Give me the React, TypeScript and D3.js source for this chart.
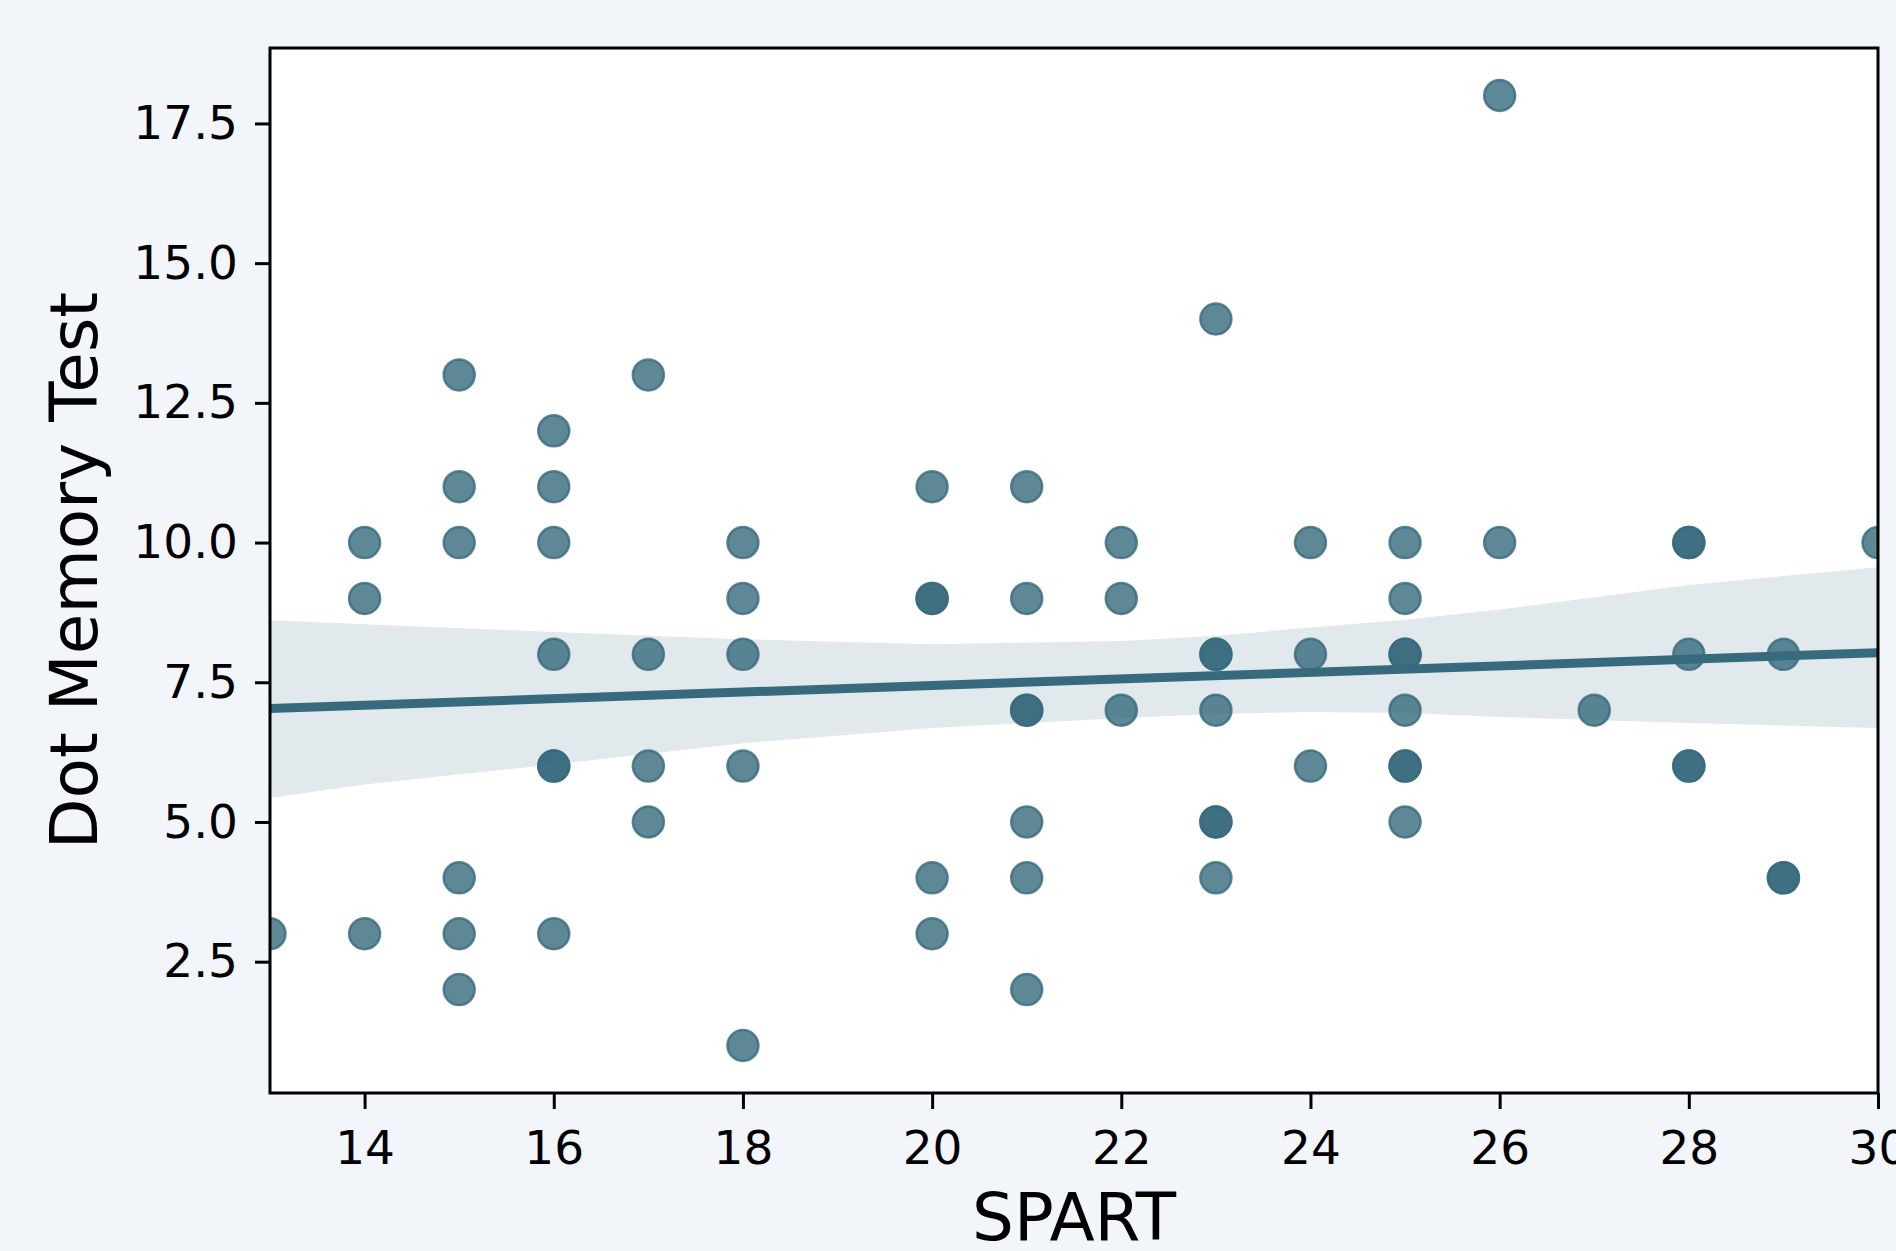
import { useEffect, useRef } from 'react';
import * as d3 from 'd3';

// SPART score per participant, paired with dotMemory below (repeats = overlapping dots)
const spart = [
    13,
    14, 14, 14,
    15, 15, 15, 15, 15, 15,
    16, 16, 16, 16, 16, 16, 16,
    17, 17, 17, 17,
    18, 18, 18, 18, 18,
    20, 20, 20, 20, 20,
    21, 21, 21, 21, 21, 21, 21,
    22, 22, 22,
    23, 23, 23, 23, 23, 23, 23,
    24, 24, 24,
    25, 25, 25, 25, 25, 25, 25, 25,
    26, 26,
    27,
    28, 28, 28, 28, 28,
    29, 29, 29,
    30
];
const dotMemory = [
    3,
    10, 9, 3,
    13, 11, 10, 4, 3, 2,
    12, 11, 10, 8, 6, 6, 3,
    13, 8, 6, 5,
    10, 9, 8, 6, 1,
    11, 9, 9, 4, 3,
    11, 9, 7, 7, 5, 4, 2,
    10, 9, 7,
    14, 8, 8, 7, 5, 5, 4,
    10, 8, 6,
    10, 9, 8, 8, 7, 6, 6, 5,
    18, 10,
    7,
    10, 10, 8, 6, 6,
    8, 4, 4,
    10
];

// regression fit and its confidence band
const fitX = [13, 30];
const fitY = [7.03, 8.03];
const bandX = [13, 14, 16, 18, 20, 22, 23, 24, 25, 26, 28, 30];
const bandUpper = [8.61, 8.54, 8.40, 8.27, 8.18, 8.24, 8.33, 8.48, 8.62, 8.80, 9.24, 9.56];
const bandLower = [5.43, 5.67, 6.03, 6.41, 6.68, 6.86, 6.93, 6.97, 6.95, 6.88, 6.77, 6.68];

const xTicks = [14, 16, 18, 20, 22, 24, 26, 28, 30];
const yTicks = [2.5, 5.0, 7.5, 10.0, 12.5, 15.0, 17.5];

const WIDTH = 1896, HEIGHT = 1251;
const COLOR = '#376a7d';
const FONT = 'DejaVu Sans, sans-serif';

function renderChart(node) {
    const svg = d3.select(node);
    svg.selectAll('*').remove();

    const left = 270, right = 1878, top = 48, bottom = 1093;

    const x = d3.scaleLinear().domain([13, 30]).range([left, right]);
    const y = d3.scaleLinear().domain([0.15, 18.85]).range([bottom, top]);

    svg.append('rect')
        .attr('width', WIDTH)
        .attr('height', HEIGHT)
        .attr('fill', '#f2f5fa');

    svg.append('rect')
        .attr('x', left)
        .attr('y', top)
        .attr('width', right - left)
        .attr('height', bottom - top)
        .attr('fill', 'white');

    svg.append('clipPath')
        .attr('id', 'plot-clip')
        .append('rect')
        .attr('x', left)
        .attr('y', top)
        .attr('width', right - left)
        .attr('height', bottom - top);

    const plot = svg.append('g').attr('clip-path', 'url(#plot-clip)');

    // scatter
    plot.append('g')
        .selectAll('circle')
        .data(spart.map((s, i) => [s, dotMemory[i]]))
        .enter()
        .append('circle')
        .attr('cx', d => x(d[0]))
        .attr('cy', d => y(d[1]))
        .attr('r', 15.5)
        .attr('fill', COLOR)
        .attr('fill-opacity', 0.8)
        .attr('stroke', COLOR)
        .attr('stroke-opacity', 0.8)
        .attr('stroke-width', 2.5);

    // confidence band
    const area = d3.area()
        .x(d => x(d[0]))
        .y0(d => y(d[2]))
        .y1(d => y(d[1]));
    plot.append('path')
        .datum(bandX.map((b, i) => [b, bandUpper[i], bandLower[i]]))
        .attr('d', area)
        .attr('fill', COLOR)
        .attr('fill-opacity', 0.15);

    // regression line
    const line = d3.line().x(d => x(d[0])).y(d => y(d[1]));
    plot.append('path')
        .datum(fitX.map((f, i) => [f, fitY[i]]))
        .attr('d', line)
        .attr('fill', 'none')
        .attr('stroke', COLOR)
        .attr('stroke-width', 9);

    // frame
    svg.append('rect')
        .attr('x', left)
        .attr('y', top)
        .attr('width', right - left)
        .attr('height', bottom - top)
        .attr('fill', 'none')
        .attr('stroke', 'black')
        .attr('stroke-width', 3);

    const xAxis = svg.append('g')
        .attr('transform', `translate(0, ${bottom})`)
        .call(d3.axisBottom(x).tickValues(xTicks).tickSize(16).tickPadding(22).tickFormat(d3.format('d')));
    const yAxis = svg.append('g')
        .attr('transform', `translate(${left}, 0)`)
        .call(d3.axisLeft(y).tickValues(yTicks).tickSize(15).tickPadding(17).tickFormat(d3.format('.1f')));

    [xAxis, yAxis].forEach(axis => {
        axis.select('.domain').remove();
        axis.selectAll('line').attr('stroke', 'black').attr('stroke-width', 3);
        axis.selectAll('text')
            .attr('fill', 'black')
            .style('font-family', FONT)
            .style('font-size', '47px');
    });

    svg.append('text')
        .attr('x', (left + right) / 2)
        .attr('y', 1240)
        .attr('text-anchor', 'middle')
        .style('font-family', FONT)
        .style('font-size', '66px')
        .text('SPART');

    svg.append('text')
        .attr('transform', `translate(97, ${(top + bottom) / 2}) rotate(-90)`)
        .attr('text-anchor', 'middle')
        .style('font-family', FONT)
        .style('font-size', '66px')
        .text('Dot Memory Test');
}

const App = () => {
    const ref = useRef(null);

    useEffect(() => {
        renderChart(ref.current);
    }, []);

    return (
        <svg
            ref={ref}
            width={WIDTH}
            height={HEIGHT}
            style={{ position: 'absolute', left: 0, top: 0, display: 'block' }}
        />
    );
};

export default App;
